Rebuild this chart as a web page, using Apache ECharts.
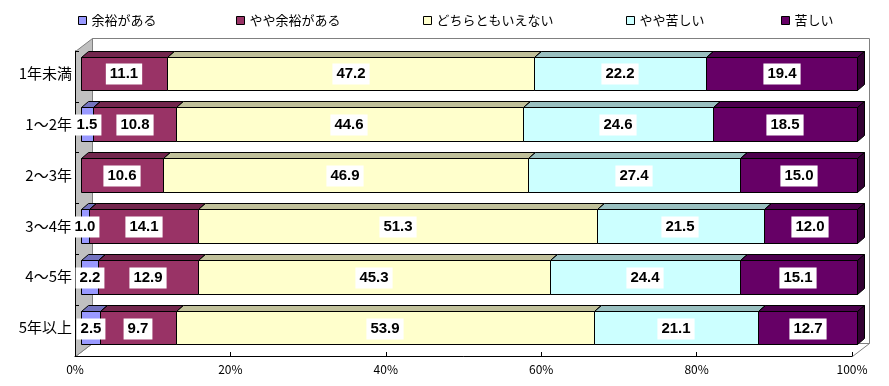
<!DOCTYPE html>
<html><head><meta charset="utf-8">
<script src="https://cdn.jsdelivr.net/npm/echarts@6/dist/echarts.min.js"></script>
<style>html,body{margin:0;padding:0;background:#fff}#c{width:889px;height:386px}</style>
</head><body><div id="c"></div>
<script>
// ---- data ----
const categories = ['1年未満', '1～2年', '2～3年', '3～4年', '4～5年', '5年以上'];
const seriesNames = ['余裕がある', 'やや余裕がある', 'どちらともいえない', 'やや苦しい', '苦しい'];
const yoyuGaAru   = [null, 1.5, null, 1.0, 2.2, 2.5];
const yayaYoyu    = [11.1, 10.8, 10.6, 14.1, 12.9, 9.7];
const dochiraTomo = [47.2, 44.6, 46.9, 51.3, 45.3, 53.9];
const yayaKurushii= [22.2, 24.6, 27.4, 21.5, 24.4, 21.1];
const kurushii    = [19.4, 18.5, 15.0, 12.0, 15.1, 12.7];
const axisMax = 100, axisInterval = 20;

// ---- style ----
const frontColors = ['#9999FF', '#993366', '#FFFFCC', '#CCFFFF', '#660066'];
const topColors   = ['#7373BF', '#73264D', '#C0C09A', '#99BFBF', '#4D004D'];
const sideColors  = ['#4D4D80', '#4D1A33', '#808066', '#668080', '#330033'];
const BAR_RATIO = 0.66, DX = 7, DY = 6;       // bar depth
const WDX = 17, WDY = 13;                     // wall depth
const legendLeft = [73, 231, 418, 621, 776];
const JP = '"Noto Sans CJK JP", sans-serif';

const allSeries = [yoyuGaAru, yayaYoyu, dochiraTomo, yayaKurushii, kurushii];
const totals = categories.map((_, c) => allSeries.reduce((s, a) => s + (a[c] || 0), 0));

// stacked segments in percent of each row
const segData = allSeries.map(() => []);
const labelData = [];
categories.forEach((_, c) => {
  let cum = 0;
  allSeries.forEach((arr, si) => {
    const v = arr[c] || 0;
    const s = cum / totals[c] * 100, e = (cum + v) / totals[c] * 100;
    segData[si].push([s, e, c]);
    if (arr[c] != null && v > 0) labelData.push([(s + e) / 2, c, arr[c].toFixed(1)]);
    cum += v;
  });
});

function barRender(si) {
  return function (params, api) {
    const s = api.value(0), e = api.value(1), c = api.value(2);
    if (!(e > s)) return;
    const a = api.coord([s, c]), b = api.coord([e, c]);
    const bh = api.size([0, 1])[1] * BAR_RATIO;
    const x0 = Math.round(a[0]) + 0.5, x1 = Math.round(b[0]) + 0.5;
    const yt = Math.round(a[1] - bh / 2) + 0.5, yb = Math.round(a[1] + bh / 2) + 0.5;
    const st = { stroke: '#000', lineWidth: 1 };
    return { type: 'group', children: [
      { type: 'rect', shape: { x: x0, y: yt, width: x1 - x0, height: yb - yt }, style: Object.assign({ fill: frontColors[si] }, st) },
      { type: 'polygon', shape: { points: [[x0, yt], [x0 + DX, yt - DY], [x1 + DX, yt - DY], [x1, yt]] }, style: Object.assign({ fill: topColors[si] }, st) },
      { type: 'polygon', shape: { points: [[x1, yt], [x1 + DX, yt - DY], [x1 + DX, yb - DY], [x1, yb]] }, style: Object.assign({ fill: sideColors[si] }, st) }
    ]};
  };
}

function wallRender(params, api) {
  const cs = params.coordSys;
  const x = cs.x + 0.5, y = cs.y + 0.5, w = cs.width, h = cs.height;
  const g = { stroke: '#808080', lineWidth: 1 };
  return { type: 'group', children: [
    { type: 'rect', shape: { x: x + WDX, y: y - WDY, width: w, height: h }, style: Object.assign({ fill: '#fff' }, g) },
    { type: 'polygon', shape: { points: [[x, y + h], [x + w, y + h], [x + w + WDX, y + h - WDY], [x + WDX, y + h - WDY]] }, style: Object.assign({ fill: '#fff' }, g) },
    { type: 'polygon', shape: { points: [[x, y + h], [x, y], [x + WDX, y - WDY], [x + WDX, y + h - WDY]] }, style: Object.assign({ fill: '#C0C0C0' }, g) }
  ]};
}

function labelRender(params, api) {
  const p = api.coord([api.value(0), api.value(1)]);
  return { type: 'text', x: Math.round(p[0]), y: Math.round(p[1]) + 1,
    style: { text: labelData[params.dataIndex][2], font: 'bold 15px "Liberation Sans", Arial, sans-serif',
      fill: '#000', align: 'center', verticalAlign: 'middle', backgroundColor: '#fff', padding: [3, 4, 3, 4] } };
}

const series = [{
  type: 'custom', name: 'wall', xAxisIndex: 1, yAxisIndex: 1, z: -1, silent: true,
  renderItem: wallRender, data: [[0, 0]]
}];
seriesNames.forEach((n, si) => series.push({
  type: 'custom', name: n, xAxisIndex: 0, yAxisIndex: 0, z: 2 + si,
  itemStyle: { color: frontColors[si] },
  encode: { x: [0, 1], y: 2 }, renderItem: barRender(si), data: segData[si]
}));
series.push({ type: 'custom', name: 'labels', xAxisIndex: 0, yAxisIndex: 0, z: 20,
  encode: { x: 0, y: 1 }, renderItem: labelRender, data: labelData.map(d => [d[0], d[1]]) });

const option = {
  animation: false,
  backgroundColor: '#fff',
  legend: seriesNames.map((n, i) => ({
    data: [n], left: legendLeft[i], top: 9, icon: 'rect', itemWidth: 8, itemHeight: 8,
    selectedMode: false, itemStyle: { borderColor: '#000', borderWidth: 1 },
    textStyle: { fontSize: 13, color: '#000', fontFamily: JP }
  })),
  grid: [
    { left: 81, right: 32, top: 48, height: 305 },
    { left: 75, right: 37, top: 51, bottom: 30 }
  ],
  xAxis: [
    { gridIndex: 0, type: 'value', min: 0, max: axisMax, show: false },
    { gridIndex: 1, type: 'value', min: 0, max: axisMax, interval: axisInterval,
      axisLine: { show: true, lineStyle: { color: '#000' } },
      axisTick: { show: true, inside: true, length: 4, lineStyle: { color: '#000' } },
      axisLabel: { formatter: '{value}%', margin: 7, fontSize: 12, color: '#000', fontFamily: JP },
      splitLine: { show: false } }
  ],
  yAxis: [
    { gridIndex: 0, type: 'category', data: categories, inverse: true,
      axisLine: { show: false }, axisTick: { show: false },
      axisLabel: { margin: 9, fontSize: 15, color: '#000', fontFamily: JP } },
    { gridIndex: 1, type: 'category', data: categories, inverse: true,
      axisLine: { show: true, lineStyle: { color: '#000' } },
      axisTick: { show: true, inside: true, length: 4, lineStyle: { color: '#000' } },
      axisLabel: { show: false }, splitLine: { show: false } }
  ],
  series: series
};
const chart = echarts.init(document.getElementById('c'), null, { renderer: 'canvas' });
chart.setOption(option);
</script></body></html>
